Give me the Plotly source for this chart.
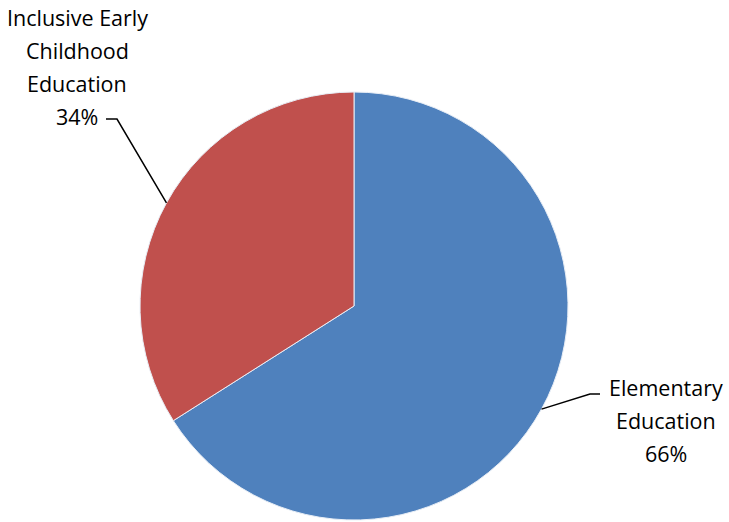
import math
import plotly.graph_objects as go

categories = ["Elementary Education", "Inclusive Early Childhood Education"]
values = [66, 34]
label_lines = [["Elementary", "Education"], ["Inclusive Early", "Childhood", "Education"]]
colors = ["#4F81BD", "#C0504D"]

W, H = 729, 522
cx, cy, R = 354, 306, 214  # pie centre / radius in pixels (layout)

def px(x):
    return x / W

def py(y):
    return 1 - y / H

fig = go.Figure(go.Pie(
    labels=categories, values=values, sort=False, direction="clockwise", rotation=0,
    marker=dict(colors=colors, line=dict(color="#E8EEF6", width=1)),
    textinfo="none", hoverinfo="skip", showlegend=False,
    domain=dict(x=[px(cx - R), px(cx + R)], y=[py(cy + R), py(cy - R)]),
))

# label layout (pixel positions of text block centre x, first line y, elbow, line end)
label_layout = [
    dict(tx=666, ty=387, elbow=(590, 394), end=(600, 394)),
    dict(tx=77, ty=17, elbow=(117, 119), end=(106, 119)),
]

total = sum(values)
start = 0.0
annotations = []
shapes = []
for i, v in enumerate(values):
    frac = v / total
    mid = (start + frac / 2) * 2 * math.pi
    start += frac
    ex = cx + R * math.sin(mid)
    ey = cy - R * math.cos(mid)
    lay = label_layout[i]
    pct = f"{round(frac * 100)}%"
    lines = label_lines[i] + [pct]
    for k, t in enumerate(lines):
        annotations.append(dict(
            x=px(lay["tx"]), y=py(lay["ty"] + 33 * k), xref="paper", yref="paper",
            text=t, showarrow=False, xanchor="center", yanchor="middle",
            font=dict(family="Open Sans", size=21.5, color="#000000"),
        ))
    path = (f"M {px(ex)},{py(ey)} L {px(lay['elbow'][0])},{py(lay['elbow'][1])} "
            f"L {px(lay['end'][0])},{py(lay['end'][1])}")
    shapes.append(dict(type="path", path=path, xref="paper", yref="paper",
                       line=dict(color="black", width=1.5)))

fig.update_layout(
    width=W, height=H, margin=dict(l=0, r=0, t=0, b=0),
    paper_bgcolor="white", plot_bgcolor="white",
    annotations=annotations, shapes=shapes,
)
fig.write_html("out.html", config=dict(displayModeBar=False),
               post_script="document.body.style.margin='0px';")
